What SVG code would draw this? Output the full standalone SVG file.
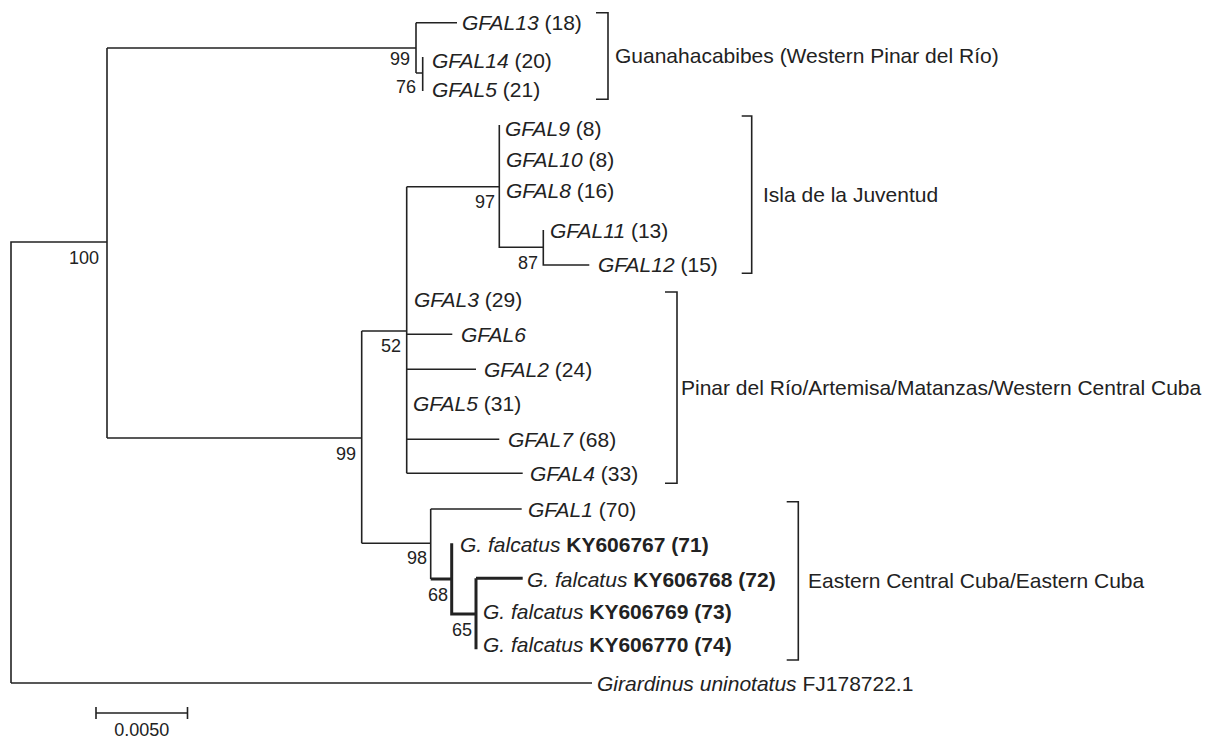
<svg xmlns="http://www.w3.org/2000/svg" width="1218" height="740" viewBox="0 0 1218 740">
<style>
text{font-family:"Liberation Sans",Arial,sans-serif;fill:#222;}
.leaf{font-size:21px;}
.i{font-style:italic;}
.b{font-weight:bold;}
.sup{font-size:18px;text-anchor:end;}
.clade{font-size:21px;}
.br{fill:none;stroke:#222;stroke-width:1.6;}
.ln{fill:none;stroke:#222;stroke-width:1.6;}
.thick{fill:none;stroke:#222;stroke-width:3;}
</style>
<rect width="1218" height="740" fill="#fff"/>
<g id="connectors">
<path class="ln" d="M11,683 V242 H107 M107,48 V438 M107,48 H416 M416,22.7 V73 M416,22.7 H457 M416,73 H422.7 M422.7,57 V91"/>
<path class="ln" d="M107,438 H361.7 M361.7,331 V543.3 M361.7,331 H406.7 M406.7,186.7 V473.3 M406.7,186.7 H499.3 M499.3,125 V247.3 H543.3 M543.3,230 V265 H589.3"/>
<path class="ln" d="M406.7,334.3 H452.3 M406.7,369.3 H476 M406.7,439.3 H499.3 M406.7,473.3 H522.7"/>
<path class="ln" d="M361.7,543.3 H430.7 M430.7,509 V579 M430.7,509 H521.7 M11,683 H592"/>
<path class="thick" d="M430.7,579 H451.7 M451.7,543.3 V614 H476 M476,578.3 V649.3 M476,578.3 H522.7"/>
</g>
<g id="support">
<text class="sup" x="99" y="264">100</text>
<text class="sup" x="410" y="65">99</text>
<text class="sup" x="416" y="93">76</text>
<text class="sup" x="495" y="208">97</text>
<text class="sup" x="538" y="269">87</text>
<text class="sup" x="401" y="352">52</text>
<text class="sup" x="356" y="460">99</text>
<text class="sup" x="427" y="564">98</text>
<text class="sup" x="448" y="601">68</text>
<text class="sup" x="472" y="636">65</text>
</g>
<g id="leaf-GFAL13"><text class="leaf" x="462" y="30"><tspan class="i">GFAL13</tspan> (18)</text></g>
<g id="leaf-GFAL14"><text class="leaf" x="432" y="68"><tspan class="i">GFAL14</tspan> (20)</text></g>
<g id="leaf-GFAL5-21"><text class="leaf" x="432" y="97"><tspan class="i">GFAL5</tspan> (21)</text></g>
<g id="leaf-GFAL9"><text class="leaf" x="505" y="136"><tspan class="i">GFAL9</tspan> (8)</text></g>
<g id="leaf-GFAL10"><text class="leaf" x="506" y="167"><tspan class="i">GFAL10</tspan> (8)</text></g>
<g id="leaf-GFAL8"><text class="leaf" x="506" y="198"><tspan class="i">GFAL8</tspan> (16)</text></g>
<g id="leaf-GFAL11"><text class="leaf" x="550" y="238"><tspan class="i">GFAL11</tspan> (13)</text></g>
<g id="leaf-GFAL12"><text class="leaf" x="598" y="272"><tspan class="i">GFAL12</tspan> (15)</text></g>
<g id="leaf-GFAL3"><text class="leaf" x="414" y="307"><tspan class="i">GFAL3</tspan> (29)</text></g>
<g id="leaf-GFAL6"><text class="leaf" x="461" y="342"><tspan class="i">GFAL6</tspan></text></g>
<g id="leaf-GFAL2"><text class="leaf" x="484" y="377"><tspan class="i">GFAL2</tspan> (24)</text></g>
<g id="leaf-GFAL5-31"><text class="leaf" x="413" y="411"><tspan class="i">GFAL5</tspan> (31)</text></g>
<g id="leaf-GFAL7"><text class="leaf" x="508" y="447"><tspan class="i">GFAL7</tspan> (68)</text></g>
<g id="leaf-GFAL4"><text class="leaf" x="530" y="481"><tspan class="i">GFAL4</tspan> (33)</text></g>
<g id="leaf-GFAL1"><text class="leaf" x="528" y="517"><tspan class="i">GFAL1</tspan> (70)</text></g>
<g id="leaf-KY606767"><text class="leaf" x="460" y="552"><tspan class="i">G. falcatus</tspan> <tspan class="b">KY606767 (71)</tspan></text></g>
<g id="leaf-KY606768"><text class="leaf" x="527" y="587"><tspan class="i">G. falcatus</tspan> <tspan class="b">KY606768 (72)</tspan></text></g>
<g id="leaf-KY606769"><text class="leaf" x="483" y="619"><tspan class="i">G. falcatus</tspan> <tspan class="b">KY606769 (73)</tspan></text></g>
<g id="leaf-KY606770"><text class="leaf" x="483" y="652"><tspan class="i">G. falcatus</tspan> <tspan class="b">KY606770 (74)</tspan></text></g>
<g id="leaf-Girardinus"><text class="leaf" x="597" y="691"><tspan class="i">Girardinus uninotatus</tspan> FJ178722.1</text></g>
<g id="clade-guanahacabibes">
<path class="br" d="M596,12.7 H608 V99.3 H596"/>
<text class="clade" x="615" y="63">Guanahacabibes (Western Pinar del Río)</text>
</g>
<g id="clade-isla">
<path class="br" d="M741.7,116 H751.7 V273.3 H741.7"/>
<text class="clade" x="763" y="202">Isla de la Juventud</text>
</g>
<g id="clade-pinar">
<path class="br" d="M665,292 H677 V483.3 H665"/>
<text class="clade" x="681" y="395">Pinar del Río/Artemisa/Matanzas/Western Central Cuba</text>
</g>
<g id="clade-eastern">
<path class="br" d="M786.7,501.7 H798.3 V660 H786.7"/>
<text class="clade" x="808" y="588">Eastern Central Cuba/Eastern Cuba</text>
</g>
<g id="scale-bar">
<path class="ln" d="M96,713 H187.5 M96,707 V719 M187.5,707 V719"/>
<text class="leaf" x="141.7" y="736" text-anchor="middle" style="font-size:18px">0.0050</text>
</g>
</svg>
